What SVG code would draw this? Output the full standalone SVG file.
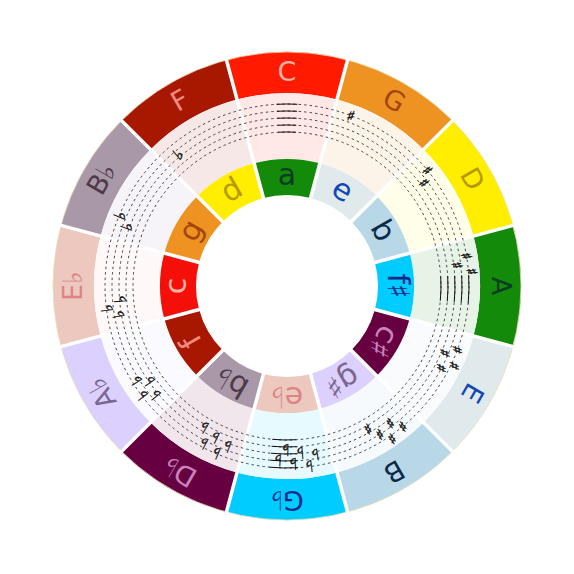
<svg xmlns="http://www.w3.org/2000/svg" width="574" height="574" viewBox="0 0 574 574">
<style>
.lbl{font-family:"DejaVu Sans","Liberation Sans",sans-serif;text-anchor:middle}
.o{font-size:27px}
.i{font-size:30px}
.acc{font-family:"DejaVu Sans",sans-serif;text-anchor:middle;fill:#111;stroke:#111;stroke-width:0.4}
.sh{font-size:15px}
.fl{font-size:16px}
.staff{fill:none;stroke:#1a1a1a;stroke-width:0.8;stroke-dasharray:2.5 3}
.solid{fill:none;stroke:#1a1010;stroke-width:1}
.sep{stroke:#fff;stroke-width:3.5}
</style>
<defs>
<path id="so" d="M226.436,59.973 A234,234 0 0 1 347.564,59.973 L336.952,99.576 A193,193 0 0 0 237.048,99.576 Z"/>
<path id="sm" d="M237.048,99.576 A193,193 0 0 1 336.952,99.576 L319.870,163.327 A127,127 0 0 0 254.130,163.327 Z"/>
<path id="si" d="M254.130,163.327 A127,127 0 0 1 319.870,163.327 L310.553,198.101 A91,91 0 0 0 263.447,198.101 Z"/>
<path id="arc" d="M277.598,132.287 A154,154 0 0 1 301.760,132.709 M277.171,125.300 A161,161 0 0 1 302.431,125.741 M276.744,118.313 A168,168 0 0 1 303.102,118.773 M276.316,111.326 A175,175 0 0 1 303.773,111.806 M275.889,104.339 A182,182 0 0 1 304.444,104.838"/>
<path id="arcC" d="M278.135,132.255 A154,154 0 0 1 295.865,132.255 M277.732,125.267 A161,161 0 0 1 296.268,125.267 M277.329,118.279 A168,168 0 0 1 296.671,118.279 M276.926,111.290 A175,175 0 0 1 297.074,111.290 M276.523,104.302 A182,182 0 0 1 297.477,104.302"/>
<path id="sepl" d="M287,197 V50"/>
</defs>

<g id="rings">
<g id="key-C" transform="rotate(0 287 286)">
<use href="#so" fill="#FF1A00"/><use href="#sm" fill="#FFE8E6"/><use href="#si" fill="#138A0A"/>
<text class="lbl o" x="287" y="81" fill="#FFB3A6">C</text>
<text class="lbl i" x="287" y="185" fill="#0B3D22">a</text>
</g>
<g id="key-G" transform="rotate(30 287 286)">
<use href="#so" fill="#EE9322"/><use href="#sm" fill="#FDF4E9"/><use href="#si" fill="#E0EAEC"/>
<text class="lbl o" x="287" y="81" fill="#A3450C">G</text>
<text class="lbl i" x="287" y="185" fill="#1147B8">e</text>
</g>
<g id="key-D" transform="rotate(60 287 286)">
<use href="#so" fill="#FFEE00"/><use href="#sm" fill="#FFFEE8"/><use href="#si" fill="#B8D8E8"/>
<text class="lbl o" x="287" y="81" fill="#B89800">D</text>
<text class="lbl i" x="287" y="185" fill="#0B2A4A">b</text>
</g>
<g id="key-A" transform="rotate(90 287 286)">
<use href="#so" fill="#138A0A"/><use href="#sm" fill="#E7F3E7"/><use href="#si" fill="#00CCFF"/>
<text class="lbl o" x="287" y="81" fill="#0B3D22">A</text>
<text class="lbl i" x="287" y="185" fill="#0A2B8C">f♯</text>
</g>
<g id="key-E" transform="rotate(120 287 286)">
<use href="#so" fill="#E0EAEC"/><use href="#sm" fill="#F9FBFC"/><use href="#si" fill="#660040"/>
<text class="lbl o" x="287" y="81" fill="#1147B8">E</text>
<text class="lbl i" x="287" y="185" fill="#C784BC">c♯</text>
</g>
<g id="key-B" transform="rotate(150 287 286)">
<use href="#so" fill="#B8D8E8"/><use href="#sm" fill="#F6FAFD"/><use href="#si" fill="#DCD0FF"/>
<text class="lbl o" x="287" y="81" fill="#0B2A4A">B</text>
<text class="lbl i" x="287" y="185" fill="#7B6690">g♯</text>
</g>
<g id="key-Gb" transform="rotate(180 287 286)">
<use href="#so" fill="#00CCFF"/><use href="#sm" fill="#E6FAFF"/><use href="#si" fill="#ECC8BE"/>
<text class="lbl o" x="287" y="81" fill="#0A2B8C">G♭</text>
<text class="lbl i" x="287" y="185" fill="#DC8484">e♭</text>
</g>
<g id="key-Db" transform="rotate(210 287 286)">
<use href="#so" fill="#660040"/><use href="#sm" fill="#F0E6EC"/><use href="#si" fill="#A898A8"/>
<text class="lbl o" x="287" y="81" fill="#C784BC">D♭</text>
<text class="lbl i" x="287" y="185" fill="#4F3848">b♭</text>
</g>
<g id="key-Ab" transform="rotate(240 287 286)">
<use href="#so" fill="#DCD0FF"/><use href="#sm" fill="#FBFAFF"/><use href="#si" fill="#A81800"/>
<text class="lbl o" x="287" y="81" fill="#7B6690">A♭</text>
<text class="lbl i" x="287" y="185" fill="#F08A80">f</text>
</g>
<g id="key-Eb" transform="rotate(270 287 286)">
<use href="#so" fill="#ECC8BE"/><use href="#sm" fill="#FEF9F8"/><use href="#si" fill="#F41008"/>
<text class="lbl o" x="287" y="81" fill="#DC8484">E♭</text>
<text class="lbl i" x="287" y="185" fill="#FFB3A6">c</text>
</g>
<g id="key-Bb" transform="rotate(300 287 286)">
<use href="#so" fill="#A898A8"/><use href="#sm" fill="#F6F4F8"/><use href="#si" fill="#EE9322"/>
<text class="lbl o" x="287" y="81" fill="#4F3848">B♭</text>
<text class="lbl i" x="287" y="185" fill="#A3450C">g</text>
</g>
<g id="key-F" transform="rotate(330 287 286)">
<use href="#so" fill="#A81800"/><use href="#sm" fill="#F6E8E6"/><use href="#si" fill="#FFEE00"/>
<text class="lbl o" x="287" y="81" fill="#F08A80">F</text>
<text class="lbl i" x="287" y="185" fill="#B89800">d</text>
</g>
</g>

<circle cx="287" cy="286" r="234" fill="none" stroke="#EADFB8" stroke-width="0.8"/>

<g id="separators" class="sep">
<use href="#sepl" transform="rotate(15 287 286)"/>
<use href="#sepl" transform="rotate(45 287 286)"/>
<use href="#sepl" transform="rotate(75 287 286)"/>
<use href="#sepl" transform="rotate(105 287 286)"/>
<use href="#sepl" transform="rotate(135 287 286)"/>
<use href="#sepl" transform="rotate(165 287 286)"/>
<use href="#sepl" transform="rotate(195 287 286)"/>
<use href="#sepl" transform="rotate(225 287 286)"/>
<use href="#sepl" transform="rotate(255 287 286)"/>
<use href="#sepl" transform="rotate(285 287 286)"/>
<use href="#sepl" transform="rotate(315 287 286)"/>
<use href="#sepl" transform="rotate(345 287 286)"/>
</g>

<g id="staff" class="staff">
<circle cx="287" cy="286" r="154"/>
<circle cx="287" cy="286" r="161"/>
<circle cx="287" cy="286" r="168"/>
<circle cx="287" cy="286" r="175"/>
<circle cx="287" cy="286" r="182"/>
</g>

<g id="sig-C"><use href="#arcC" class="solid"/></g>
<g id="sig-G" transform="rotate(30 287 286)">
<text class="acc sh" x="287" y="109.5" transform="rotate(-9.5 287 286)">♯</text>
</g>
<g id="sig-D" transform="rotate(60 287 286)">
<text class="acc sh" x="287" y="109.5" transform="rotate(-9.5 287 286)">♯</text>
<text class="acc sh" x="287" y="120" transform="rotate(-7 287 286)">♯</text>
</g>
<g id="sig-A" transform="rotate(90 287 286)">
<use href="#arc" class="solid"/>
<text class="acc sh" x="287" y="109.5" transform="rotate(-9.5 287 286)">♯</text>
<text class="acc sh" x="287" y="120" transform="rotate(-7 287 286)">♯</text>
<text class="acc sh" x="287" y="106" transform="rotate(-4.5 287 286)">♯</text>
</g>
<g id="sig-E" transform="rotate(120 287 286)">
<text class="acc sh" x="287" y="109.5" transform="rotate(-9.5 287 286)">♯</text>
<text class="acc sh" x="287" y="120" transform="rotate(-7 287 286)">♯</text>
<text class="acc sh" x="287" y="106" transform="rotate(-4.5 287 286)">♯</text>
<text class="acc sh" x="287" y="116.5" transform="rotate(-2 287 286)">♯</text>
</g>
<g id="sig-B" transform="rotate(150 287 286)">
<text class="acc sh" x="287" y="109.5" transform="rotate(-9.5 287 286)">♯</text>
<text class="acc sh" x="287" y="120" transform="rotate(-7 287 286)">♯</text>
<text class="acc sh" x="287" y="106" transform="rotate(-4.5 287 286)">♯</text>
<text class="acc sh" x="287" y="116.5" transform="rotate(-2 287 286)">♯</text>
<text class="acc sh" x="287" y="127" transform="rotate(0.5 287 286)">♯</text>
</g>
<g id="sig-Gb" transform="rotate(180 287 286)">
<use href="#arc" class="solid"/>
<text class="acc fl" x="287" y="120.7" transform="rotate(-9.5 287 286)">♭</text>
<text class="acc fl" x="287" y="110.2" transform="rotate(-7 287 286)">♭</text>
<text class="acc fl" x="287" y="124.2" transform="rotate(-4.5 287 286)">♭</text>
<text class="acc fl" x="287" y="113.7" transform="rotate(-2 287 286)">♭</text>
<text class="acc fl" x="287" y="127.7" transform="rotate(0.5 287 286)">♭</text>
<text class="acc fl" x="287" y="117.2" transform="rotate(3 287 286)">♭</text>
</g>
<g id="sig-Db" transform="rotate(210 287 286)">
<text class="acc fl" x="287" y="120.7" transform="rotate(-9.5 287 286)">♭</text>
<text class="acc fl" x="287" y="110.2" transform="rotate(-7 287 286)">♭</text>
<text class="acc fl" x="287" y="124.2" transform="rotate(-4.5 287 286)">♭</text>
<text class="acc fl" x="287" y="113.7" transform="rotate(-2 287 286)">♭</text>
<text class="acc fl" x="287" y="127.7" transform="rotate(0.5 287 286)">♭</text>
</g>
<g id="sig-Ab" transform="rotate(240 287 286)">
<text class="acc fl" x="287" y="120.7" transform="rotate(-9.5 287 286)">♭</text>
<text class="acc fl" x="287" y="110.2" transform="rotate(-7 287 286)">♭</text>
<text class="acc fl" x="287" y="124.2" transform="rotate(-4.5 287 286)">♭</text>
<text class="acc fl" x="287" y="113.7" transform="rotate(-2 287 286)">♭</text>
</g>
<g id="sig-Eb" transform="rotate(270 287 286)">
<text class="acc fl" x="287" y="120.7" transform="rotate(-9.5 287 286)">♭</text>
<text class="acc fl" x="287" y="110.2" transform="rotate(-7 287 286)">♭</text>
<text class="acc fl" x="287" y="124.2" transform="rotate(-4.5 287 286)">♭</text>
</g>
<g id="sig-Bb" transform="rotate(300 287 286)">
<text class="acc fl" x="287" y="120.7" transform="rotate(-9.5 287 286)">♭</text>
<text class="acc fl" x="287" y="110.2" transform="rotate(-7 287 286)">♭</text>
</g>
<g id="sig-F" transform="rotate(330 287 286)">
<text class="acc fl" x="287" y="120.7" transform="rotate(-9.5 287 286)">♭</text>
</g>
</svg>
